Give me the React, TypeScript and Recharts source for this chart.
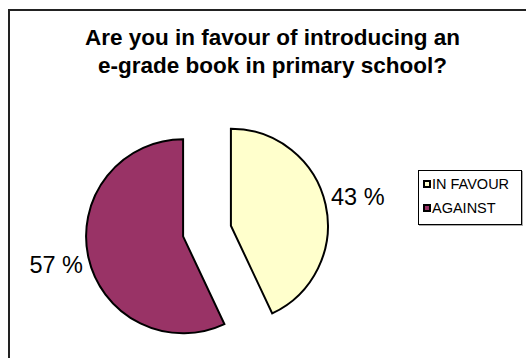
import { Cell, Legend, Pie, PieChart } from "recharts";

const categories = ["IN FAVOUR", "AGAINST"];
const values = [43, 57];
const colors = ["#ffffcc", "#993366"];

const WIDTH = 526;
const HEIGHT = 358;
const CENTER_X = 207;
const CENTER_Y = 231;
const RADIUS = 97;
const EXPLODE = 24.5;
const LABEL_RADIUS = 130;

const RAD = Math.PI / 180;
const FONT = "Arial, 'Liberation Sans', sans-serif";

const data = categories.map((name, i) => ({ name, value: values[i] }));
const total = values.reduce((a, b) => a + b, 0);

// each slice gets its own pie, shifted out along the slice's mid angle
const centers = values.map((v, i) => {
  const before = values.slice(0, i).reduce((a, b) => a + b, 0);
  const mid = 90 - ((before + v / 2) / total) * 360;
  return {
    cx: CENTER_X + EXPLODE * Math.cos(mid * RAD),
    cy: CENTER_Y - EXPLODE * Math.sin(mid * RAD),
  };
});

type LabelProps = {
  cx?: number;
  cy?: number;
  midAngle?: number;
  index?: number;
  value?: number;
};

const makeLabel = (visible: number) => (props: LabelProps) => {
  const { cx = 0, cy = 0, midAngle = 0, index, value } = props;
  if (index !== visible) return null;
  const x = cx + LABEL_RADIUS * Math.cos(-midAngle * RAD);
  const y = cy + LABEL_RADIUS * Math.sin(-midAngle * RAD);
  return (
    <text
      x={x}
      y={y}
      textAnchor="middle"
      dominantBaseline="central"
      fill="#000"
      fontSize={23.5}
      fontFamily={FONT}
    >
      {`${value} %`}
    </text>
  );
};

const renderLegend = () => (
  <div
    style={{
      boxSizing: "border-box",
      width: 104,
      height: 55,
      border: "1px solid #000",
      boxShadow: "1px 1px 0 #aaa",
      background: "#fff",
      padding: "1px 4px 0 4px",
      fontFamily: FONT,
      fontSize: 14.5,
      color: "#000",
    }}
  >
    {categories.map((name, i) => (
      <div key={name} style={{ display: "flex", alignItems: "center", height: 24 }}>
        <span
          style={{
            display: "inline-block",
            width: 4,
            height: 4,
            border: "2px solid #000",
            background: colors[i],
            marginRight: 1,
          }}
        />
        {name}
      </div>
    ))}
  </div>
);

export default function App() {
  return (
    <div
      style={{
        position: "absolute",
        left: 0,
        top: 0,
        width: WIDTH,
        height: HEIGHT,
        background: "#fff",
        overflow: "hidden",
      }}
    >
      <div
        style={{
          position: "absolute",
          left: 8,
          top: 9,
          width: WIDTH,
          height: HEIGHT,
          borderTop: "2px solid #222",
          borderLeft: "2px solid #222",
        }}
      />
      <div
        style={{
          position: "absolute",
          left: 0,
          top: 24,
          width: 545,
          textAlign: "center",
          fontFamily: FONT,
          fontWeight: "bold",
          fontSize: 22.5,
          lineHeight: "28px",
          color: "#000",
        }}
      >
        Are you in favour of introducing an
        <br />
        e-grade book in primary school?
      </div>
      <PieChart
        width={WIDTH}
        height={HEIGHT}
        margin={{ top: 0, right: 0, bottom: 0, left: 0 }}
        style={{ position: "absolute", left: 0, top: 0 }}
      >
        {centers.map((c, k) => (
          <Pie
            key={categories[k]}
            data={data}
            dataKey="value"
            nameKey="name"
            cx={c.cx}
            cy={c.cy}
            outerRadius={RADIUS}
            startAngle={90}
            endAngle={-270}
            isAnimationActive={false}
            labelLine={false}
            label={makeLabel(k)}
          >
            {data.map((entry, i) => (
              <Cell
                key={entry.name}
                fill={i === k ? colors[i] : "transparent"}
                stroke={i === k ? "#000" : "none"}
                strokeWidth={2}
              />
            ))}
          </Pie>
        ))}
        <Legend
          layout="vertical"
          content={renderLegend}
          wrapperStyle={{ position: "absolute", left: 418, top: 170, width: "auto" }}
        />
      </PieChart>
    </div>
  );
}
